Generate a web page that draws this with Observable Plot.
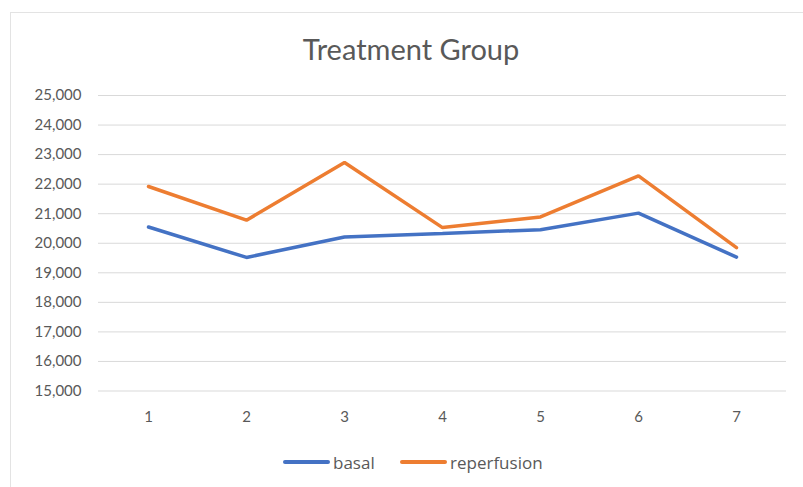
<!DOCTYPE html>
<html>
<head>
<meta charset="utf-8">
<script src="https://cdn.jsdelivr.net/npm/d3@7"></script>
<script src="https://cdn.jsdelivr.net/npm/@observablehq/plot@0.6"></script>
<style>
  html, body { margin: 0; padding: 0; background: #fff; width: 803px; height: 487px; overflow: hidden; }
  body { font-family: Lato, "Open Sans", sans-serif; position: relative; }
  #frame { position: absolute; left: 10px; top: 12px; width: 800px; height: 480px; border: 1px solid #e3e3e3; box-sizing: border-box; }
  #title { position: absolute; left: 0; top: 31px; width: 822px; text-align: center; font-size: 29px; color: #595959; }
  #chart { position: absolute; left: 0; top: 75px; }
  #legend { position: absolute; left: 0; top: 450px; width: 803px; height: 24px; }
  .item { position: absolute; top: 0; display: flex; align-items: center; font-family: "Open Sans", sans-serif; font-size: 17px; color: #595959; height: 24px; }
  .sw { display: inline-block; width: 47px; height: 3.5px; border-radius: 2px; margin-right: 3px; }
</style>
</head>
<body>
<div id="frame"></div>
<div id="title">Treatment Group</div>
<div id="chart"></div>
<div id="legend"></div>
<script>
const categories = ["1", "2", "3", "4", "5", "6", "7"];
const seriesNames = ["basal", "reperfusion"];
const basal = [20550, 19520, 20210, 20330, 20460, 21020, 19530];
const reperfusion = [21920, 20780, 22730, 20530, 20890, 22280, 19850];
const yTicks = [15000, 16000, 17000, 18000, 19000, 20000, 21000, 22000, 23000, 24000, 25000];
const colors = ["#4472C4", "#ED7D31"];

const data = [];
categories.forEach((c, i) => {
  data.push({cat: c, value: basal[i], series: seriesNames[0]});
  data.push({cat: c, value: reperfusion[i], series: seriesNames[1]});
});

const fmt = d3.format(",");
const plot = Plot.plot({
  width: 803,
  height: 360,
  marginLeft: 98,
  marginRight: 17,
  marginTop: 20,
  marginBottom: 44.5,
  style: { fontFamily: "Lato, 'Open Sans', sans-serif", fontSize: "15px", color: "#595959", background: "transparent" },
  x: { type: "point", domain: categories, padding: 0.5, label: null, tickSize: 0, tickPadding: 20 },
  y: { domain: [15000, 25000], ticks: yTicks, tickFormat: fmt, label: null, tickSize: 0, tickPadding: 17 },
  color: { domain: seriesNames, range: colors },
  marks: [
    Plot.gridY(yTicks, { stroke: "#d9d9d9", strokeOpacity: 1, strokeWidth: 1 }),
    Plot.axisY({ ticks: yTicks, tickFormat: fmt, tickSize: 0, tickPadding: 17, label: null }),
    Plot.axisX({ tickSize: 0, tickPadding: 20, label: null }),
    Plot.line(data, { x: "cat", y: "value", z: "series", stroke: "series", strokeWidth: 3.5, strokeLinejoin: "miter" })
  ]
});
document.getElementById("chart").appendChild(plot);

const legend = document.getElementById("legend");
const lefts = [283, 400];
seriesNames.forEach((s, i) => {
  const item = document.createElement("div");
  item.className = "item";
  item.style.left = lefts[i] + "px";
  const sw = document.createElement("span");
  sw.className = "sw";
  sw.style.background = colors[i];
  item.appendChild(sw);
  item.appendChild(document.createTextNode(s));
  legend.appendChild(item);
});
</script>
</body>
</html>
